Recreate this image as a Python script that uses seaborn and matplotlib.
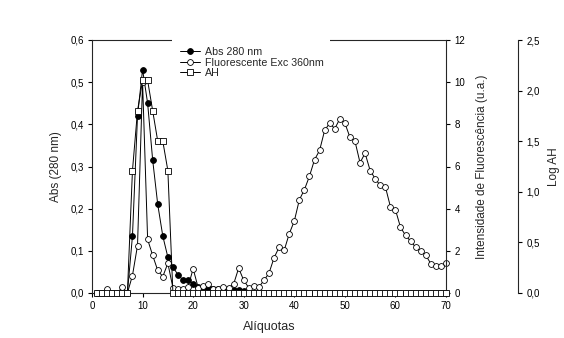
import numpy as np
import pandas as pd
import matplotlib
matplotlib.use("Agg")
import matplotlib.pyplot as plt
import seaborn as sns
from matplotlib.ticker import FuncFormatter

# ---------------- data ----------------
aliquots = list(range(1, 71))

abs280 = [0, 0, 0, 0, 0, 0, 0,
          0.135, 0.42, 0.53, 0.45, 0.315, 0.21, 0.135, 0.085, 0.062, 0.043, 0.031, 0.030, 0.022,
          0.014, 0.012, 0.012, 0.010, 0.010, 0.008, 0.008, 0.007, 0.007, 0.005,
          0, 0, 0, 0, 0, 0, 0, 0, 0, 0,
          0, 0, 0, 0, 0, 0, 0, 0, 0, 0,
          0, 0, 0, 0, 0, 0, 0, 0, 0, 0,
          0, 0, 0, 0, 0, 0, 0, 0, 0, 0]

fluor = [0, 0, 0.2, 0, 0, 0.28, 0,
         0.83, 2.25, 10.0, 2.54, 1.78, 1.07, 0.78, 1.41, 0.25, 0.2, 0.2, 0.3, 1.15,
         0.25, 0.35, 0.45, 0.2, 0.2, 0.3, 0.25, 0.42, 1.18, 0.6,
         0.25, 0.32, 0.28, 0.6, 0.94, 1.67, 2.17, 2.02, 2.81, 3.41,
         4.42, 4.9, 5.54, 6.32, 6.76, 7.71, 8.06, 7.79, 8.26, 8.06,
         7.39, 7.2, 6.18, 6.63, 5.81, 5.42, 5.1, 5.05, 4.1, 3.95,
         3.12, 2.73, 2.46, 2.17, 1.98, 1.79, 1.39, 1.28, 1.28, 1.42]

log_ah = [0, 0, 0, 0, 0, 0, 0,
          1.21, 1.8, 2.1, 2.1, 1.8, 1.5, 1.5, 1.21, 0, 0, 0, 0, 0,
          0, 0, 0, 0, 0, 0, 0, 0, 0, 0,
          0, 0, 0, 0, 0, 0, 0, 0, 0, 0,
          0, 0, 0, 0, 0, 0, 0, 0, 0, 0,
          0, 0, 0, 0, 0, 0, 0, 0, 0, 0,
          0, 0, 0, 0, 0, 0, 0, 0, 0, 0]

labels = ["Abs 280 nm", "Fluorescente Exc 360nm", "AH"]
x_label = "Alíquotas"
y1_label = "Abs (280 nm)"
y2_label = "Intensidade de Fluorescência (u.a.)"
y3_label = "Log AH"

df = pd.DataFrame({"aliquota": aliquots, "abs": abs280, "fluor": fluor, "logah": log_ah})

# ---------------- style ----------------
sns.set_style("ticks")
plt.rcParams["font.family"] = ["Liberation Sans", "DejaVu Sans"]
plt.rcParams["axes.linewidth"] = 0.8
plt.rcParams["xtick.major.width"] = 0.8
plt.rcParams["ytick.major.width"] = 0.8
plt.rcParams["xtick.major.size"] = 3
plt.rcParams["ytick.major.size"] = 3
plt.rcParams["xtick.color"] = "black"
plt.rcParams["ytick.color"] = "black"

fig = plt.figure(figsize=(5.64, 3.38), dpi=100)
ax = fig.add_axes([92 / 564, 45 / 338, 354 / 564, 253 / 338])
ax2 = ax.twinx()
ax3 = ax.twinx()

lw = 0.7
ms = 4.2

sns.lineplot(data=df, x="aliquota", y="abs", ax=ax, color="black", linewidth=lw,
             marker="o", markersize=ms, markerfacecolor="black", markeredgecolor="black",
             markeredgewidth=0.6, label=labels[0], legend=False, clip_on=False)
sns.lineplot(data=df, x="aliquota", y="fluor", ax=ax2, color="black", linewidth=lw,
             marker="o", markersize=ms, markerfacecolor="white", markeredgecolor="black",
             markeredgewidth=0.6, label=labels[1], legend=False, clip_on=False)
sns.lineplot(data=df, x="aliquota", y="logah", ax=ax3, color="black", linewidth=lw,
             marker="s", markersize=ms + 0.4, markerfacecolor="white", markeredgecolor="black",
             markeredgewidth=0.6, label=labels[2], legend=False, clip_on=False)

comma = lambda fmt: FuncFormatter(lambda v, p: (fmt % v).replace(".", ","))

ax.set_xlim(0, 70)
ax.set_ylim(0, 0.6)
ax.set_xticks(range(0, 71, 10))
ax.set_yticks(np.arange(0, 0.61, 0.1))
ax.yaxis.set_major_formatter(comma("%.1f"))
ax2.set_ylim(0, 12)
ax2.set_yticks(range(0, 13, 2))
ax3.set_ylim(0, 2.5)
ax3.set_yticks(np.arange(0, 2.51, 0.5))
ax3.yaxis.set_major_formatter(comma("%.1f"))

ax.set_xlabel(x_label, fontsize=9, labelpad=7)
ax.set_ylabel(y1_label, fontsize=8.5, labelpad=6)
ax2.set_ylabel(y2_label, fontsize=8.5, labelpad=8)
ax3.set_ylabel(y3_label, fontsize=8.5, labelpad=6)

for a in (ax, ax2, ax3):
    a.tick_params(labelsize=7, direction="out", pad=3)

ax.spines["top"].set_visible(True)
ax.spines["right"].set_visible(False)
ax2.spines["top"].set_visible(False)
ax2.spines["left"].set_visible(False)
ax2.spines["bottom"].set_visible(False)
ax2.spines["right"].set_visible(True)
for s in ("top", "left", "bottom"):
    ax3.spines[s].set_visible(False)
ax3.spines["right"].set_visible(True)
ax3.spines["right"].set_position(("axes", (518 - 92) / 354))

handles = ax.get_lines()[:1] + ax2.get_lines()[:1] + ax3.get_lines()[:1]
leg = ax3.legend(handles, labels, loc="upper left",
                 bbox_to_anchor=((171.5 - 92) / 354, 0.5, 158 / 354, 1.006 - 0.5),
                 mode="expand", borderaxespad=0,
                 frameon=True, facecolor="white", edgecolor="none", framealpha=1,
                 fancybox=False, fontsize=7.7, handlelength=1.87, handletextpad=0.47,
                 labelspacing=0.05, borderpad=0.8)
leg.set_zorder(10)

fig.savefig("out.png", dpi=100)
